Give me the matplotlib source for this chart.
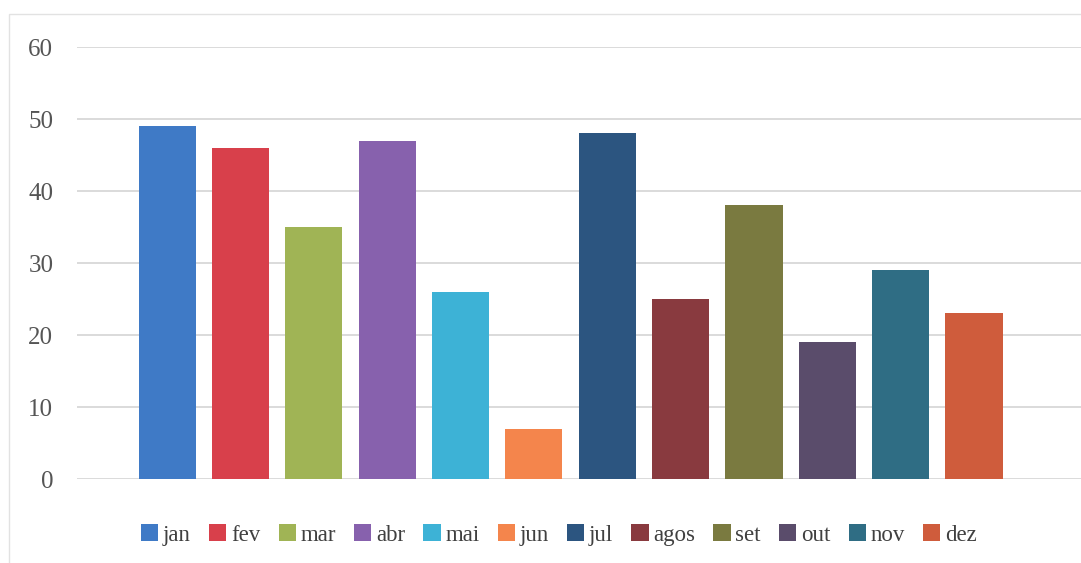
import matplotlib
matplotlib.use("Agg")
import matplotlib.pyplot as plt
from matplotlib.patches import Patch, Rectangle

months = ["jan", "fev", "mar", "abr", "mai", "jun", "jul", "agos", "set", "out", "nov", "dez"]
values = [49, 46, 35, 47, 26, 7, 48, 25, 38, 19, 29, 23]
colors = ["#3f7ac6", "#d8404b", "#a0b455", "#8761ad", "#3db2d6", "#f4854c",
          "#2c5580", "#893a3f", "#7a7a40", "#5a4c6b", "#2f6d84", "#cf5c3c"]
yticks = [0, 10, 20, 30, 40, 50, 60]

plt.rcParams['font.family'] = ['Liberation Serif', 'DejaVu Serif']

fig = plt.figure(figsize=(10.81, 5.63), dpi=100)
ax = fig.add_axes([0.0712, 0.1492, 0.9288, 0.7673])

x = list(range(len(months)))
ax.bar(x, values, width=0.78, color=colors, zorder=3)

ax.set_ylim(0, 60)
ax.set_xlim(-1.23, 12.46)
ax.set_yticks(yticks)
ax.set_yticklabels([str(t) for t in yticks], fontsize=18, color="#555555")
ax.set_xticks([])
ax.tick_params(axis='y', length=0, pad=17)
ax.grid(axis='y', color="#d4d4d4", linewidth=1.2, zorder=0)
for s in ax.spines.values():
    s.set_visible(False)

# chart border
fig.patches.append(Rectangle((0.008, -0.01), 1.2, 0.985, transform=fig.transFigure,
                             fill=False, edgecolor="#e2e2e2", linewidth=1))

handles = [Patch(facecolor=c, edgecolor='none') for c in colors]
fig.legend(handles, months, loc='center', bbox_to_anchor=(0.517, 0.050), ncol=12,
           frameon=False, fontsize=16.5, handlelength=0.75, handleheight=0.75,
           handletextpad=0.2, columnspacing=0.8, labelcolor="#404040")

fig.savefig("out.png", dpi=100)
